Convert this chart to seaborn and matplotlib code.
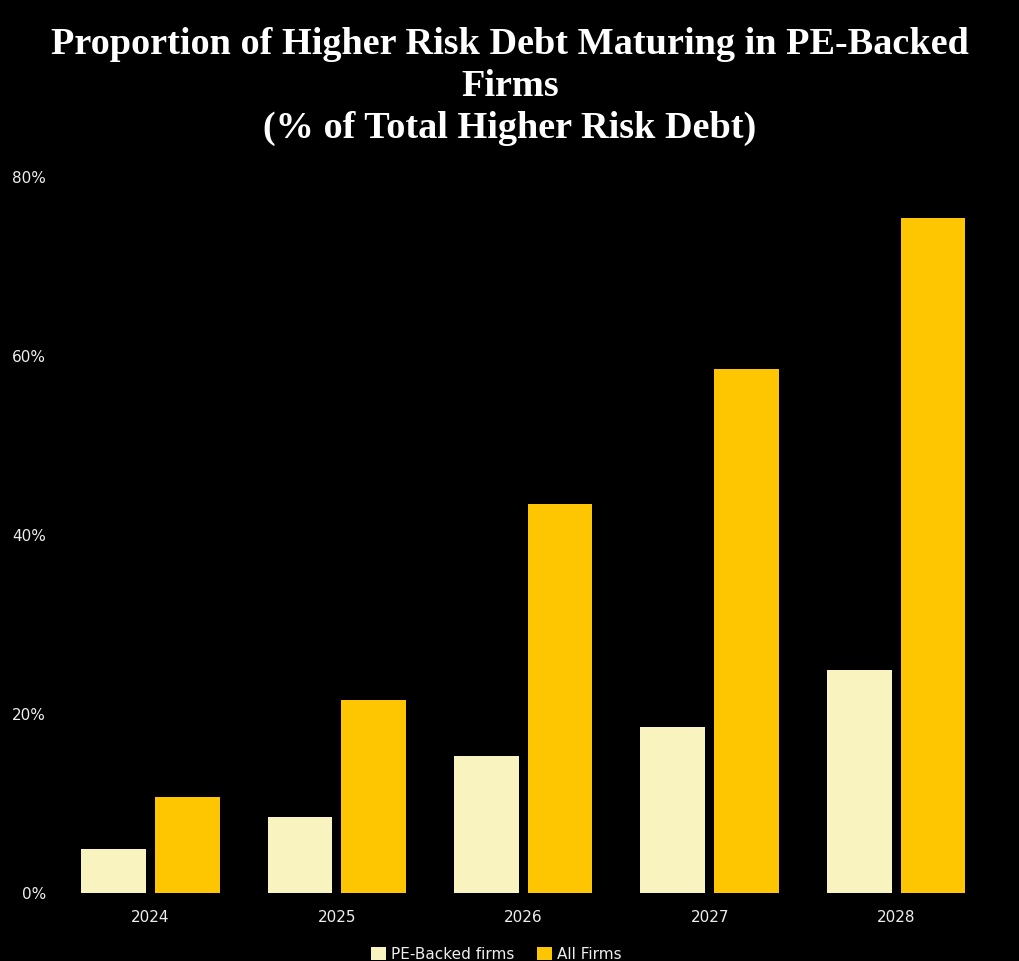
import pandas as pd
import matplotlib.pyplot as plt
import seaborn as sns
from matplotlib.ticker import PercentFormatter

# Data
years = ["2024", "2025", "2026", "2027", "2028"]
pe_backed = [4.9, 8.5, 15.3, 18.6, 24.9]
all_firms = [10.7, 21.6, 43.5, 58.6, 75.4]
series_names = ["PE-Backed firms", "All Firms"]
colors = ["#F9F3C0", "#FEC601"]

df = pd.DataFrame({
    "Year": years * 2,
    "Share": pe_backed + all_firms,
    "Series": [series_names[0]] * len(years) + [series_names[1]] * len(years),
})

sns.set_style("dark")
plt.rcParams["font.family"] = ["DejaVu Sans"]

fig = plt.figure(figsize=(10.2, 9.61), dpi=100, facecolor="black")
ax = fig.add_axes([0.056, 0.0708, 0.914, 0.745], facecolor="black")

sns.barplot(data=df, x="Year", y="Share", hue="Series", palette=colors,
            width=0.79, gap=0.12, saturation=1, linewidth=0, edgecolor="none", ax=ax)

ax.set_ylim(0, 80)
ax.set_yticks([0, 20, 40, 60, 80])
ax.yaxis.set_major_formatter(PercentFormatter(decimals=0))
ax.tick_params(colors="#EEEEEE", labelsize=11, length=0, pad=8)
ax.tick_params(axis="x", pad=12)
ax.set_xlabel("")
ax.set_ylabel("")
ax.grid(False)
for s in ax.spines.values():
    s.set_visible(False)

leg = ax.legend(loc="upper center", bbox_to_anchor=(0.471, -0.06), ncol=2,
                frameon=False, fontsize=11, handlelength=1.0, handleheight=1.0,
                handletextpad=0.3, columnspacing=1.5, borderpad=0.2)
for t in leg.get_texts():
    t.set_color("#EEEEEE")

fig.suptitle("Proportion of Higher Risk Debt Maturing in PE-Backed\nFirms\n(% of Total Higher Risk Debt)",
             x=0.5, y=0.972, color="white", fontsize=27.5, fontweight="bold",
             family="Liberation Serif", linespacing=1.25)

fig.savefig("out.png", facecolor="black")
